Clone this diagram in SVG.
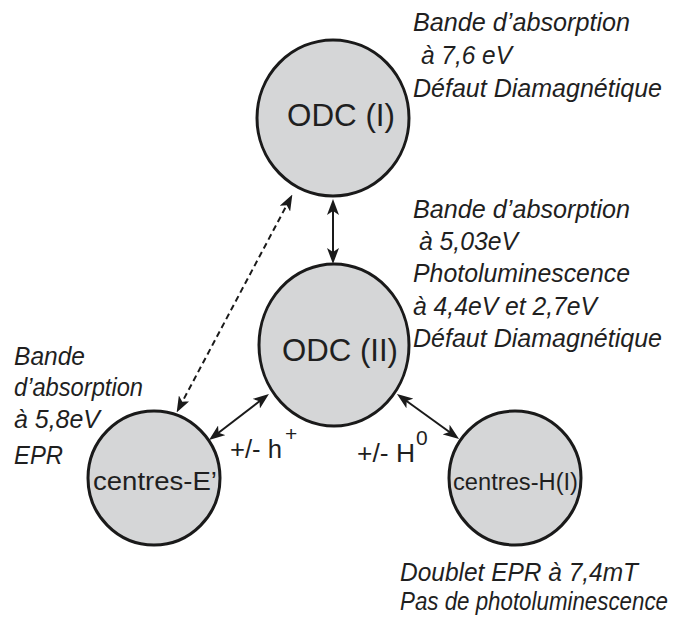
<svg xmlns="http://www.w3.org/2000/svg" width="682" height="622" viewBox="0 0 682 622">
  <defs>
    <marker id="ah" markerUnits="userSpaceOnUse" markerWidth="16" markerHeight="12" viewBox="0 0 16 12" refX="11" refY="6" orient="auto-start-reverse">
      <path d="M0,0 L16,6 L0,12 L4,6 z" fill="#1a1a1a"/>
    </marker>
  </defs>
  <style>
    .node { fill: #d5d6d7; stroke: #1a1a1a; stroke-width: 3; }
    .lbl { font-family: "Liberation Sans", Arial, sans-serif; fill: #1f1f1f; }
    .it { font-family: "Liberation Sans", Arial, sans-serif; font-style: italic; fill: #1f1f1f; font-size: 25px; }
    .con { stroke: #1a1a1a; stroke-width: 2; fill: none; }
  </style>
  <rect width="682" height="622" fill="#ffffff"/>

  <g id="connectors">
    <line class="con" x1="333" y1="204" x2="333" y2="259" marker-start="url(#ah)" marker-end="url(#ah)"/>
    <line class="con" x1="290" y1="199" x2="179" y2="408" stroke-dasharray="6 4" marker-start="url(#ah)" marker-end="url(#ah)"/>
    <line class="con" x1="213" y1="437" x2="265" y2="397" marker-start="url(#ah)" marker-end="url(#ah)"/>
    <line class="con" x1="401" y1="397" x2="455" y2="436" marker-start="url(#ah)" marker-end="url(#ah)"/>
  </g>

  <g id="node-odc1">
    <ellipse class="node" cx="333" cy="118" rx="76" ry="78"/>
    <text class="lbl" x="287" y="126" font-size="32" textLength="108" lengthAdjust="spacingAndGlyphs">ODC (I)</text>
  </g>
  <g id="node-odc2">
    <ellipse class="node" cx="334" cy="345" rx="75" ry="81"/>
    <text class="lbl" x="282" y="361" font-size="32" textLength="116" lengthAdjust="spacingAndGlyphs">ODC (II)</text>
  </g>
  <g id="node-e">
    <ellipse class="node" cx="154" cy="478" rx="66" ry="67"/>
    <text class="lbl" x="93" y="490" font-size="25" textLength="124" lengthAdjust="spacingAndGlyphs">centres-E’</text>
  </g>
  <g id="node-h">
    <ellipse class="node" cx="515" cy="478" rx="66" ry="67"/>
    <text class="lbl" x="453" y="490" font-size="23" textLength="125" lengthAdjust="spacingAndGlyphs">centres-H(I)</text>
  </g>

  <g id="edge-labels">
    <text class="lbl" x="230" y="458" font-size="25" textLength="52" lengthAdjust="spacingAndGlyphs">+/- h</text>
    <text class="lbl" x="285" y="441" font-size="21">+</text>
    <text class="lbl" x="357" y="462" font-size="25" textLength="58" lengthAdjust="spacingAndGlyphs">+/- H</text>
    <text class="lbl" x="416" y="445" font-size="21">0</text>
  </g>

  <g id="annotations">
    <text class="it" x="413" y="31" textLength="217" lengthAdjust="spacingAndGlyphs">Bande d’absorption</text>
    <text class="it" x="421" y="64" textLength="91" lengthAdjust="spacingAndGlyphs">à 7,6 eV</text>
    <text class="it" x="413" y="97" textLength="249" lengthAdjust="spacingAndGlyphs">Défaut Diamagnétique</text>

    <text class="it" x="413" y="218" textLength="217" lengthAdjust="spacingAndGlyphs">Bande d’absorption</text>
    <text class="it" x="419" y="250" textLength="99" lengthAdjust="spacingAndGlyphs">à 5,03eV</text>
    <text class="it" x="413" y="282" textLength="217" lengthAdjust="spacingAndGlyphs">Photoluminescence</text>
    <text class="it" x="413" y="315" textLength="184" lengthAdjust="spacingAndGlyphs">à 4,4eV et 2,7eV</text>
    <text class="it" x="413" y="347" textLength="249" lengthAdjust="spacingAndGlyphs">Défaut Diamagnétique</text>

    <text class="it" x="14" y="365" textLength="71" lengthAdjust="spacingAndGlyphs">Bande</text>
    <text class="it" x="14" y="396" textLength="129" lengthAdjust="spacingAndGlyphs">d’absorption</text>
    <text class="it" x="14" y="428" textLength="86" lengthAdjust="spacingAndGlyphs">à 5,8eV</text>
    <text class="it" x="14" y="464" textLength="49" lengthAdjust="spacingAndGlyphs">EPR</text>

    <text class="it" x="400" y="581" textLength="238" lengthAdjust="spacingAndGlyphs">Doublet EPR à 7,4mT</text>
    <text class="it" x="400" y="610" font-size="22" textLength="268" lengthAdjust="spacingAndGlyphs">Pas de photoluminescence</text>
  </g>
</svg>
